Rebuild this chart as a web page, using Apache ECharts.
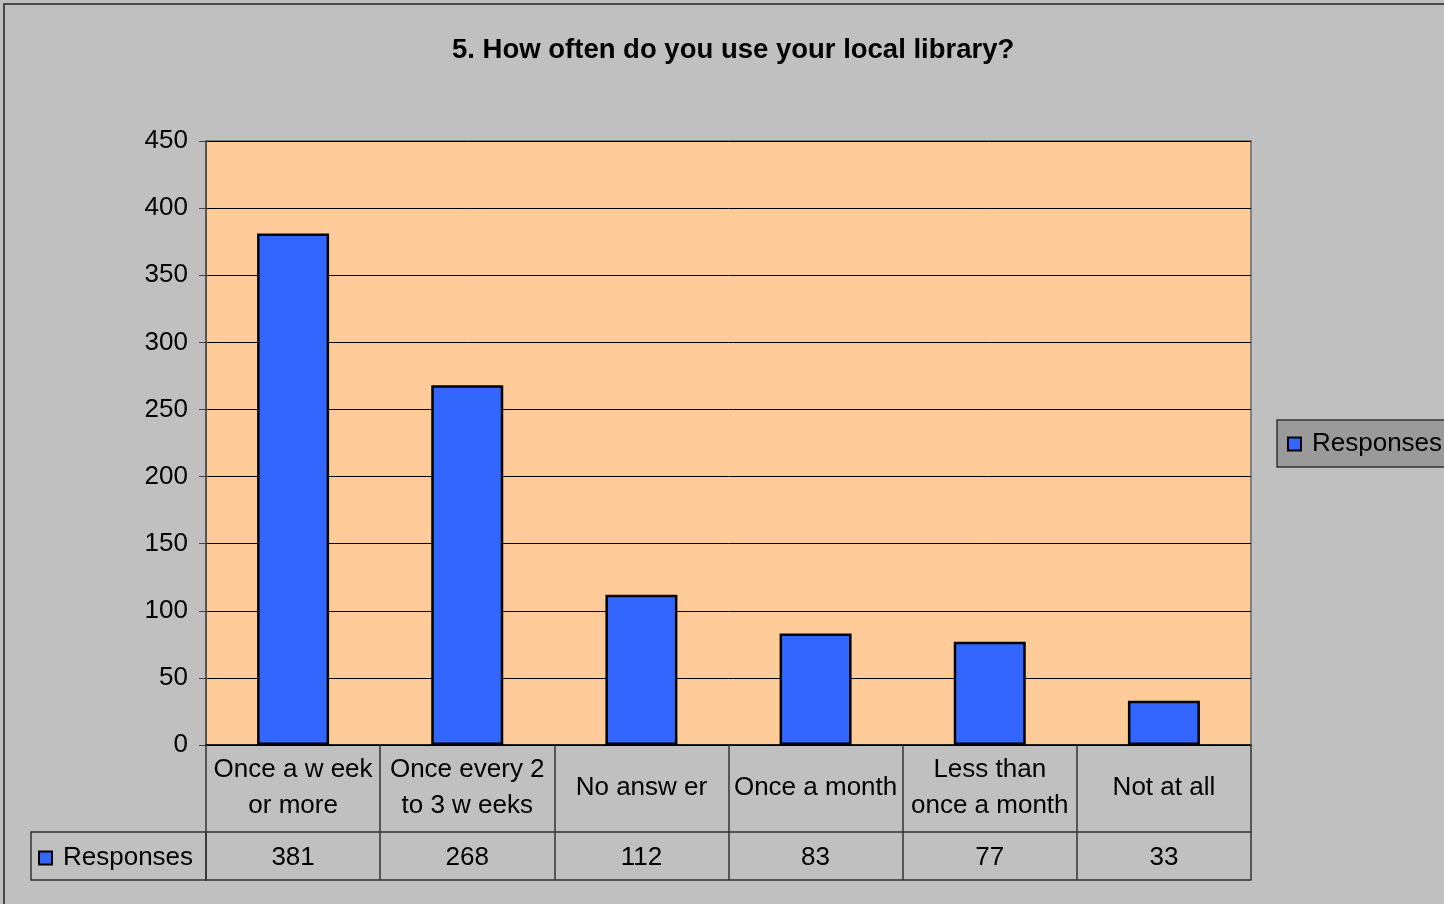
<!DOCTYPE html>
<html>
<head>
<meta charset="utf-8">
<script src="https://cdn.jsdelivr.net/npm/echarts@6/dist/echarts.min.js"></script>
<style>
  html,body{margin:0;padding:0;background:#c0c0c0;}
  #chart{width:1444px;height:904px;}
</style>
</head>
<body>
<div id="chart"></div>
<script>
var categories = ['Once a w eek\nor more', 'Once every 2\nto 3 w eeks', 'No answ er', 'Once a month', 'Less than\nonce a month', 'Not at all'];
var responses = [381, 268, 112, 83, 77, 33];
var yTicks = [0, 50, 100, 150, 200, 250, 300, 350, 400, 450];

(function(){
  var font = '"Liberation Sans", Arial, sans-serif';
  var chartDom = document.getElementById('chart');
  var myChart = echarts.init(chartDom);
  var option;

  option = {
    backgroundColor: '#c0c0c0',
    textStyle: { fontFamily: font, color: '#000' },
    title: {
      text: '5. How often do you use your local library?',
      left: 447,
      top: 31,
      textStyle: { fontFamily: font, fontSize: 27.5, fontWeight: 'bold', color: '#000' }
    },
    legend: [
      {
        data: ['Responses'],
        left: 1277,
        top: 420,
        backgroundColor: '#9a9a9a',
        borderColor: '#333',
        borderWidth: 1.5,
        borderRadius: 0,
        padding: [11, 40, 10, 10],
        itemWidth: 13,
        itemHeight: 13,
        itemGap: 10,
        icon: 'rect',
        selectedMode: false,
        textStyle: { fontFamily: font, fontSize: 26, color: '#000', padding: [0, 0, 0, 6] }
      },
      {
        data: ['Responses'],
        left: 30,
        top: 845,
        padding: [0, 0, 0, 8],
        itemWidth: 13,
        itemHeight: 13,
        icon: 'rect',
        selectedMode: false,
        textStyle: { fontFamily: font, fontSize: 26, color: '#000', padding: [0, 0, 0, 6] }
      }
    ],
    grid: {
      left: 206,
      right: 193,
      top: 141,
      bottom: 159,
      show: true,
      backgroundColor: '#ffcc99',
      borderColor: '#808080',
      borderWidth: 2
    },
    graphic: [
      {
        type: 'rect',
        shape: { x: 4, y: 4, width: 1500, height: 1000 },
        style: { fill: 'none', stroke: '#222', lineWidth: 1.5 },
        silent: true
      },
      {
        type: 'rect',
        shape: { x: 31, y: 832, width: 175, height: 48 },
        style: { fill: 'none', stroke: '#333', lineWidth: 1.5 },
        silent: true
      }
    ],
    xAxis: [
      {
        type: 'category',
        data: categories,
        position: 'bottom',
        axisLine: { show: true, lineStyle: { color: '#000', width: 1.5 } },
        axisTick: { show: true, length: 135, interval: 0, lineStyle: { color: '#333', width: 1.5 } },
        axisLabel: {
          interval: 0,
          margin: 43,
          verticalAlign: 'middle',
          lineHeight: 36,
          fontSize: 26,
          color: '#000',
          fontFamily: font
        }
      },
      {
        type: 'category',
        data: responses.map(String),
        position: 'bottom',
        offset: 87,
        axisLine: { show: true, lineStyle: { color: '#333', width: 1.5 } },
        axisTick: { show: false },
        axisLabel: {
          interval: 0,
          margin: 26,
          verticalAlign: 'middle',
          fontSize: 26,
          color: '#000',
          fontFamily: font
        }
      },
      {
        type: 'category',
        data: categories,
        position: 'bottom',
        offset: 135,
        axisLine: { show: true, lineStyle: { color: '#333', width: 1.5 } },
        axisTick: { show: false },
        axisLabel: { show: false }
      }
    ],
    yAxis: {
      type: 'value',
      min: yTicks[0],
      max: yTicks[yTicks.length - 1],
      interval: 50,
      axisLine: { show: true, lineStyle: { color: '#444', width: 1.5 } },
      axisTick: { show: true, length: 7, lineStyle: { color: '#444' } },
      axisLabel: { fontSize: 26, color: '#000', margin: 18, fontFamily: font },
      splitLine: { show: true, lineStyle: { color: '#000', width: 1 } }
    },
    series: [
      {
        name: 'Responses',
        type: 'bar',
        xAxisIndex: 0,
        data: responses,
        barWidth: 72,
        itemStyle: { color: '#3366ff', borderColor: '#000', borderWidth: 2.5 }
      }
    ]
  };

  option && myChart.setOption(option);
})();
</script>
</body>
</html>
